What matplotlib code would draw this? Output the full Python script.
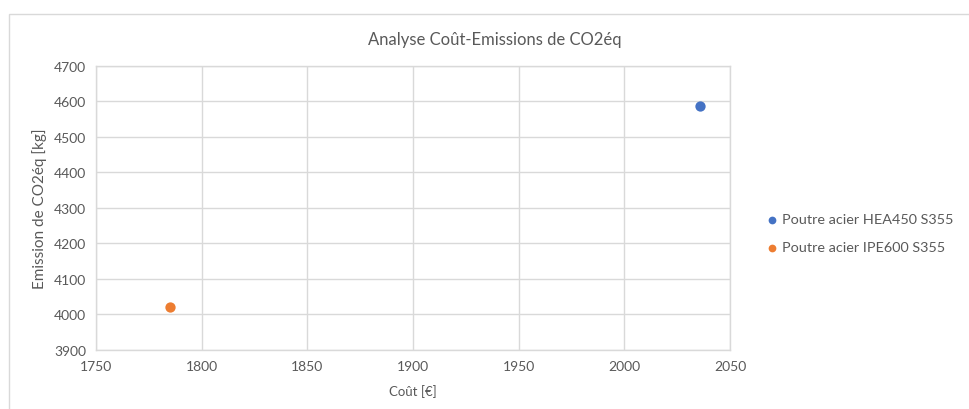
import matplotlib
matplotlib.use("Agg")
import matplotlib.pyplot as plt
from matplotlib.patches import Rectangle

# Data
series_names = ["Poutre acier HEA450 S355", "Poutre acier IPE600 S355"]
cost = [2036, 1785]          # Coût [€]
emissions = [4588, 4020]     # Emission de CO2éq [kg]
colors = ["#4472C4", "#ED7D31"]

x_ticks = [1750, 1800, 1850, 1900, 1950, 2000, 2050]
y_ticks = [3900, 4000, 4100, 4200, 4300, 4400, 4500, 4600, 4700]

plt.rcParams["font.family"] = ["Lato", "DejaVu Sans"]
text_color = "#595959"
grid_color = "#d9d9d9"

fig = plt.figure(figsize=(9.69, 4.10), dpi=100)
fig.patch.set_facecolor("white")

# Chart-area frame
fig.patches.append(Rectangle((9 / 969, -0.05), 1.0, 1 - 15 / 410 + 0.05,
                             transform=fig.transFigure, fill=False,
                             edgecolor=grid_color, linewidth=1.0))

ax = fig.add_axes([96 / 969, 1 - 351 / 410, (730 - 96) / 969, (351 - 66.7) / 410])

for name, x, y, c in zip(series_names, cost, emissions, colors):
    ax.scatter([x], [y], s=55, color=c, label=name, zorder=3, linewidths=0)

ax.set_xlim(x_ticks[0], x_ticks[-1])
ax.set_ylim(y_ticks[0], y_ticks[-1])
ax.set_xticks(x_ticks)
ax.set_yticks(y_ticks)
ax.grid(True, color=grid_color, linewidth=1.0)
ax.set_axisbelow(True)
for s in ax.spines.values():
    s.set_color(grid_color)
    s.set_linewidth(1.0)
ax.tick_params(length=0, labelsize=10, colors=text_color, pad=7)

fig.text(495 / 969, 1 - 40 / 410, "Analyse Coût-Emissions de CO2éq", fontsize=12,
         color=text_color, ha="center", va="center")
ax.set_xlabel("Coût [€]", fontsize=9.5, color=text_color, labelpad=9)
ax.set_ylabel("Emission de CO2éq [kg]", fontsize=11, color=text_color, labelpad=5)

leg = ax.legend(loc="center left", bbox_to_anchor=(1.057, 0.41), frameon=False,
                fontsize=10.4, labelcolor=text_color, handlelength=0.8,
                handletextpad=0.3, markerscale=0.75, labelspacing=1.1,
                borderaxespad=0, borderpad=0)

fig.savefig("out.png", dpi=100, facecolor="white")
